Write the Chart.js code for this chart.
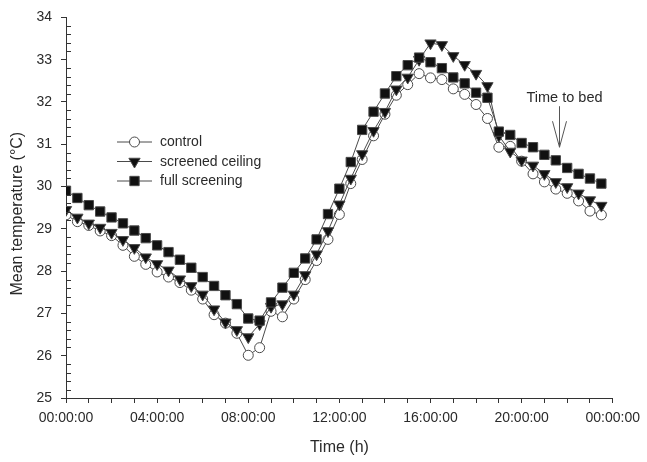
<!DOCTYPE html>
<html><head><meta charset="utf-8">
<script src="https://cdn.jsdelivr.net/npm/chart.js@4"></script>
<style>html,body{margin:0;padding:0;background:#fff}canvas{display:block}</style>
</head><body>
<canvas id="c" width="647" height="462"></canvas>
<script>
// Time of day in hours (every 30 minutes)
const timesH = [0,0.5,1,1.5,2,2.5,3,3.5,4,4.5,5,5.5,6,6.5,7,7.5,8,8.5,9,9.5,10,10.5,11,11.5,
                12,12.5,13,13.5,14,14.5,15,15.5,16,16.5,17,17.5,18,18.5,19,19.5,20,20.5,21,21.5,22,22.5,23,23.5];

const controlVals = [29.33,29.17,29.08,28.95,28.84,28.61,28.35,28.16,27.98,27.86,27.73,27.55,
                     27.34,26.97,26.77,26.53,26.01,26.19,27.05,26.92,27.34,27.80,28.25,28.75,
                     29.34,30.07,30.64,31.20,31.71,32.16,32.41,32.67,32.57,32.53,32.31,32.18,
                     31.94,31.61,30.93,30.95,30.60,30.30,30.11,29.94,29.84,29.66,29.42,29.33];

const ceilingVals = [29.45,29.27,29.13,29.03,28.91,28.74,28.55,28.33,28.17,28.02,27.81,27.65,
                     27.45,27.10,26.79,26.61,26.44,26.75,27.16,27.22,27.45,27.91,28.40,28.95,
                     29.58,30.19,30.77,31.32,31.77,32.30,32.58,33.00,33.39,33.35,33.09,32.88,
                     32.67,32.38,31.20,30.83,30.62,30.50,30.30,30.11,29.99,29.84,29.68,29.55];

const fullVals = [29.90,29.73,29.56,29.41,29.27,29.13,28.96,28.78,28.61,28.45,28.27,28.08,
                  27.86,27.65,27.43,27.22,26.88,26.83,27.26,27.61,27.96,28.30,28.75,29.35,
                  29.95,30.58,31.34,31.77,32.20,32.61,32.87,33.05,32.94,32.80,32.58,32.44,
                  32.22,32.10,31.30,31.22,31.03,30.93,30.75,30.62,30.44,30.30,30.19,30.07];

const seriesNames = ['control', 'screened ceiling', 'full screening'];
const xTickLabels = ['00:00:00','04:00:00','08:00:00','12:00:00','16:00:00','20:00:00','00:00:00'];
const yTickValues = [25,26,27,28,29,30,31,32,33,34];
const annotationText = 'Time to bed';
const bedTimeH = 21.65;

const FONT = '"Liberation Sans", Arial, sans-serif';
const INK = '#2a2a2a';
const LINE = '#4a4a4a';

function pts(vals){ return timesH.map((t,i)=>({x:t, y:vals[i]})); }

const styles = [
  {pointStyle:'circle', radius:5, bg:'#ffffff', rot:0},
  {pointStyle:'triangle', radius:6.5, bg:'#111111', rot:180},
  {pointStyle:'rect', radius:6.6, bg:'#111111', rot:0}
];

function drawMarker(ctx, kind, x, y){
  ctx.save();
  ctx.lineWidth = 1;
  ctx.strokeStyle = LINE;
  ctx.beginPath();
  if (kind === 0){
    ctx.arc(x, y, 5, 0, Math.PI*2);
    ctx.fillStyle = '#fff'; ctx.fill(); ctx.stroke();
  } else if (kind === 1){
    const r = 6.5;
    ctx.moveTo(x, y + r);
    ctx.lineTo(x - r*0.866, y - r*0.5);
    ctx.lineTo(x + r*0.866, y - r*0.5);
    ctx.closePath();
    ctx.fillStyle = '#111'; ctx.fill(); ctx.stroke();
  } else {
    const s = 6.6*Math.SQRT1_2;
    ctx.rect(x - s, y - s, 2*s, 2*s);
    ctx.fillStyle = '#111'; ctx.fill(); ctx.stroke();
  }
  ctx.restore();
}

const extras = {
  id: 'extras',
  afterDraw(chart){
    const ctx = chart.ctx;
    const xs = chart.scales.x, ys = chart.scales.y;
    const area = chart.chartArea;
    ctx.save();
    // minor y ticks (inward)
    ctx.strokeStyle = '#333'; ctx.lineWidth = 1;
    ctx.beginPath();
    for (let i = 0; i <= 45; i++){
      if (i % 5 === 0) continue;
      const py = Math.round(ys.getPixelForValue(25 + i*0.2)) + 0.5;
      ctx.moveTo(area.left, py); ctx.lineTo(area.left + 5, py);
    }
    ctx.stroke();

    // axis titles
    ctx.fillStyle = INK;
    ctx.font = '16px ' + FONT;
    ctx.textAlign = 'center'; ctx.textBaseline = 'middle';
    ctx.fillText('Time (h)', (area.left + area.right)/2, 448);
    ctx.save();
    ctx.translate(18, (area.top + area.bottom)/2 + 6);
    ctx.rotate(-Math.PI/2);
    ctx.fillText('Mean temperature (\u00B0C)', 0, 0);
    ctx.restore();

    // legend
    const rows = [141.5, 161, 180.5];
    ctx.font = '14px ' + FONT;
    ctx.textAlign = 'left';
    for (let k = 0; k < 3; k++){
      const y = rows[k];
      ctx.strokeStyle = LINE; ctx.lineWidth = 1;
      ctx.beginPath(); ctx.moveTo(117, y + 0.5); ctx.lineTo(152, y + 0.5); ctx.stroke();
      drawMarker(ctx, k, 134.5, y + 0.5);
      ctx.fillStyle = INK;
      ctx.fillText(seriesNames[k], 160, y + 1);
    }

    // annotation
    const ax = Math.round(xs.getPixelForValue(bedTimeH)) + 0.5;
    ctx.fillStyle = INK;
    ctx.font = '14.5px ' + FONT;
    ctx.textAlign = 'center';
    ctx.fillText(annotationText, ax + 5, ys.getPixelForValue(32.1));
    const yTop = ys.getPixelForValue(31.9), yTip = ys.getPixelForValue(30.93);
    ctx.strokeStyle = '#555'; ctx.lineWidth = 1;
    ctx.beginPath();
    ctx.moveTo(ax, yTop); ctx.lineTo(ax, yTip);
    ctx.moveTo(ax - 7, yTip - 26); ctx.lineTo(ax, yTip); ctx.lineTo(ax + 7, yTip - 26);
    ctx.stroke();
    ctx.restore();
  }
};

new Chart(document.getElementById('c'), {
  type: 'line',
  data: {
    datasets: [controlVals, ceilingVals, fullVals].map((vals, k) => ({
      label: seriesNames[k],
      data: pts(vals),
      borderColor: LINE,
      borderWidth: 1,
      pointStyle: styles[k].pointStyle,
      pointRadius: styles[k].radius,
      pointRotation: styles[k].rot,
      pointBackgroundColor: styles[k].bg,
      pointBorderColor: LINE,
      pointBorderWidth: 1,
      tension: 0,
      fill: false,
      order: 3 - k
    }))
  },
  options: {
    responsive: false,
    animation: false,
    events: [],
    layout: { padding: { top: 14, right: 32, left: 0, bottom: 0 } },
    plugins: { legend: { display: false }, tooltip: { enabled: false } },
    scales: {
      x: {
        type: 'linear', min: 0, max: 24,
        afterFit(s){ s.height = 64; },
        afterBuildTicks(s){ s.ticks = Array.from({length:25}, (_,i)=>({value:i})); },
        border: { display: true, color: '#333', width: 1 },
        grid: { display: true, drawOnChartArea: false, drawTicks: true, tickLength: 5, color: '#333' },
        ticks: {
          autoSkip: false, maxRotation: 0, padding: 7, color: INK,
          font: { size: 14, family: FONT },
          callback(v){ return (v % 4 === 0) ? xTickLabels[v/4] : ''; }
        }
      },
      y: {
        type: 'linear', min: 25, max: 34,
        afterFit(s){ s.width = 66; },
        afterBuildTicks(s){ s.ticks = yTickValues.map(v=>({value:v})); },
        border: { display: true, color: '#333', width: 1 },
        grid: { display: true, drawOnChartArea: false, drawTicks: true, tickLength: 5, color: '#333' },
        ticks: { padding: 9, color: INK, font: { size: 14, family: FONT } }
      }
    }
  },
  plugins: [extras]
});
</script>
</body></html>
